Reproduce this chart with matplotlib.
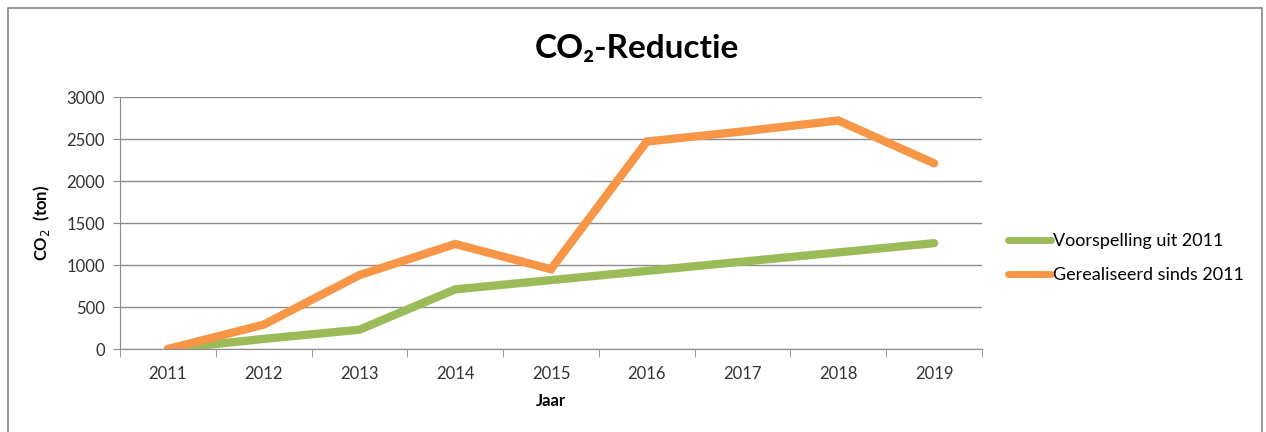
import numpy as np
import matplotlib.pyplot as plt
from matplotlib.patches import Rectangle

plt.rcParams["font.family"] = ["Lato", "DejaVu Sans"]

years = ["2011", "2012", "2013", "2014", "2015", "2016", "2017", "2018", "2019"]
voorspelling = [0, 120, 230, 710, 820, 930, 1040, 1150, 1260]
gerealiseerd = [0, 290, 880, 1250, 950, 2470, 2590, 2720, 2210]

green = "#9BBB59"
orange = "#F79646"
grid_col = "#8C8C8C"

fig = plt.figure(figsize=(12.66, 4.32), dpi=100)
# outer chart frame
fig.patches.append(Rectangle((8 / 1266, -0.05), 1254 / 1266, 1.05 - 8 / 432,
                             transform=fig.transFigure, fill=False,
                             edgecolor="#868686", linewidth=1.2))

ax = fig.add_axes([120 / 1266, 1 - 349 / 432, 862 / 1266, 252 / 432])

x = np.arange(len(years))
ax.plot(x, voorspelling, color=green, lw=6, solid_capstyle="round",
        solid_joinstyle="miter", label="Voorspelling uit 2011")
ax.plot(x, gerealiseerd, color=orange, lw=6, solid_capstyle="round",
        solid_joinstyle="miter", label="Gerealiseerd sinds 2011")

ax.set_xlim(-0.5, len(years) - 0.5)
ax.set_ylim(0, 3000)
ax.set_yticks(range(0, 3001, 500))
ax.set_xticks(x)
ax.set_xticklabels(years)
ax.set_xticks(np.arange(-0.5, len(years)), minor=True)
ax.tick_params(axis="x", which="major", length=0, pad=12, labelsize=12,
               colors="#333333")
ax.tick_params(axis="x", which="minor", length=6, color=grid_col)
ax.tick_params(axis="y", length=5, color=grid_col, labelsize=12,
               labelcolor="#333333", pad=6)

ax.grid(axis="y", color=grid_col, lw=1)
ax.set_axisbelow(True)
for s in ["top", "right"]:
    ax.spines[s].set_visible(False)
ax.spines["left"].set_color(grid_col)
ax.spines["bottom"].set_color(grid_col)

ax.set_xlabel("Jaar", fontsize=12, fontweight="bold", labelpad=8)
ax.set_ylabel("CO$_2$  (ton)", fontsize=12, fontweight="bold", labelpad=10)

fig.text(637 / 1266, 1 - 49 / 432, "CO₂-Reductie", ha="center", va="center",
         fontsize=24, fontweight="bold", color="black")

leg = fig.legend(loc="center left", bbox_to_anchor=(1008 / 1266, 1 - 258 / 432),
                 frameon=False, fontsize=13, handlelength=2.4, handletextpad=0.1,
                 labelspacing=1.0, borderpad=0, borderaxespad=0)
for line in leg.get_lines():
    line.set_linewidth(5)

fig.savefig("out.png", dpi=100)
